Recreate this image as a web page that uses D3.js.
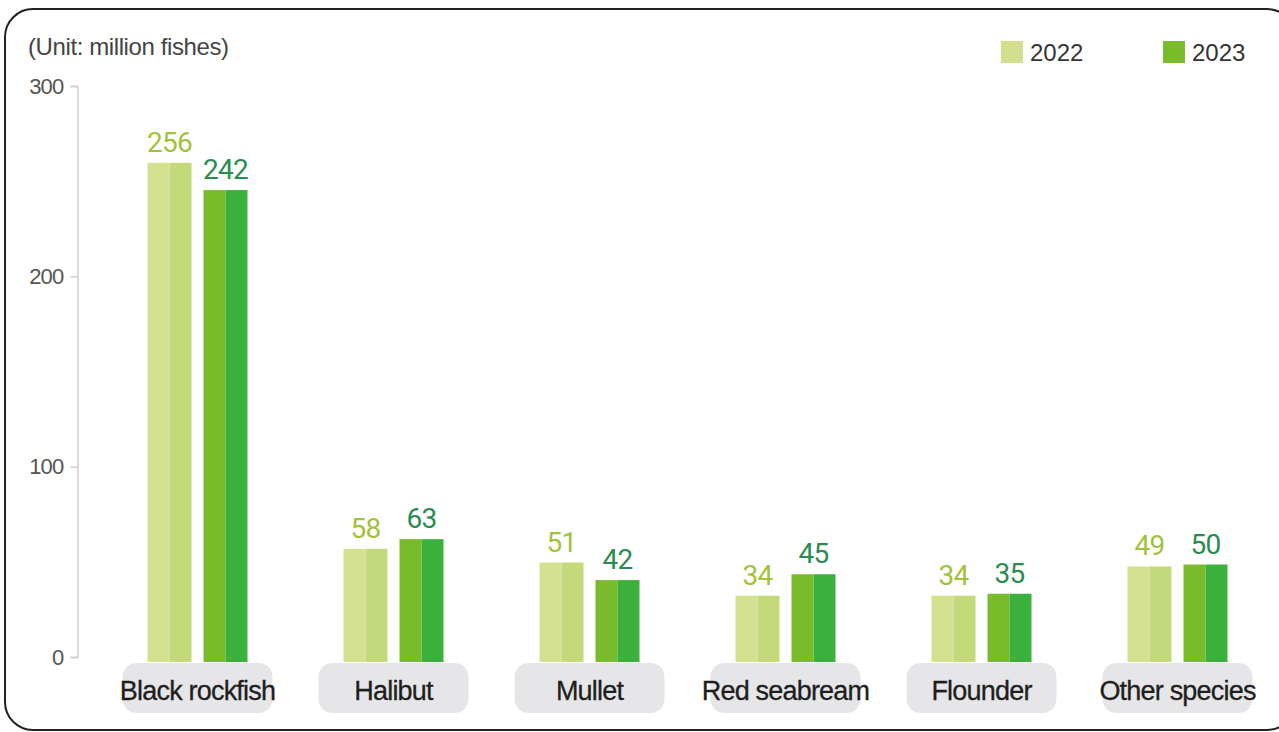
<!DOCTYPE html>
<html>
<head>
<meta charset="utf-8">
<script src="https://cdn.jsdelivr.net/npm/d3@7"></script>
<style>
  html, body { margin: 0; padding: 0; background: #fff; }
  svg { display: block; }
</style>
</head>
<body>
<svg id="chart" width="1279" height="732"></svg>
<script>
const categories = ["Black rockfish", "Halibut", "Mullet", "Red seabream", "Flounder", "Other species"];
const seriesNames = ["2022", "2023"];
const values2022 = [256, 58, 51, 34, 34, 49];
const values2023 = [242, 63, 42, 45, 35, 50];
const yTicks = [0, 100, 200, 300];
const unitLabel = "(Unit: million fishes)";

const svg = d3.select("#chart");

// outer rounded frame
svg.append("rect")
  .attr("x", 5).attr("y", 9).attr("width", 1290).attr("height", 721)
  .attr("rx", 28).attr("ry", 28)
  .attr("fill", "#fff").attr("stroke", "#222").attr("stroke-width", 2);

// scales
const x0 = d3.scaleBand().domain(categories).range([99.5, 1275.5]).paddingInner(0).paddingOuter(0);
const x1 = d3.scaleBand().domain(seriesNames).range([0, 100]).paddingInner(0.2143).paddingOuter(0);
const yAxisScale = d3.scaleLinear().domain([0, 300]).range([657, 86]);
const yBar = d3.scaleLinear().domain([0, 300]).range([662, 77]);

// y axis
const yAxis = d3.axisLeft(yAxisScale).tickValues(yTicks).tickSize(7).tickPadding(7);
const gy = svg.append("g").attr("transform", "translate(77.5,0)").call(yAxis);
gy.select(".domain").attr("stroke", "#cfcfcf").attr("stroke-width", 1.5);
gy.selectAll(".tick line").attr("stroke", "#cfcfcf").attr("stroke-width", 1.5);
gy.selectAll(".tick text")
  .attr("fill", "#555").attr("font-size", 22)
  .attr("font-family", "'Liberation Sans', Arial, sans-serif")
  .attr("letter-spacing", -0.8);

// unit label
svg.append("text").attr("x", 28).attr("y", 55).text(unitLabel)
  .attr("font-family", "'Liberation Sans', Arial, sans-serif")
  .attr("font-size", 24).attr("fill", "#444").attr("letter-spacing", -0.4);

// category label boxes
const catG = svg.append("g");
categories.forEach(c => {
  const cx = x0(c) + x0.bandwidth() / 2;
  catG.append("rect")
    .attr("x", cx - 75).attr("y", 663).attr("width", 150).attr("height", 50)
    .attr("rx", 14).attr("fill", "#e6e6e8");
  catG.append("text")
    .attr("x", cx).attr("y", 700).attr("text-anchor", "middle")
    .attr("font-family", "'Liberation Sans', Arial, sans-serif")
    .attr("font-size", 27).attr("fill", "#1e1e1e").attr("letter-spacing", -0.8)
    .attr("stroke", "#1e1e1e").attr("stroke-width", 0.3)
    .text(c);
});

// bars
const colors = {
  "2022": { left: "#d4e190", right: "#c3d97a", label: "#a0c33a" },
  "2023": { left: "#78bb2b", right: "#3cb03d", label: "#2b8c52" }
};
const data = categories.map((c, i) => ({ cat: c, vals: [
  { s: "2022", v: values2022[i] },
  { s: "2023", v: values2023[i] }
]}));

const groups = svg.append("g").selectAll("g").data(data).join("g")
  .attr("transform", d => `translate(${x0(d.cat) + (x0.bandwidth() - 100) / 2},0)`);

groups.each(function(d) {
  const g = d3.select(this);
  d.vals.forEach(b => {
    const bx = x1(b.s), bw = x1.bandwidth();
    const top = yBar(b.v), h = yBar(0) - top;
    g.append("rect").attr("x", bx).attr("y", top).attr("width", bw / 2).attr("height", h)
      .attr("fill", colors[b.s].left);
    g.append("rect").attr("x", bx + bw / 2).attr("y", top).attr("width", bw / 2).attr("height", h)
      .attr("fill", colors[b.s].right);
    g.append("text").attr("x", bx + bw / 2).attr("y", top - 11)
      .attr("text-anchor", "middle")
      .attr("font-family", "Roboto, 'DejaVu Sans Condensed', sans-serif")
      .attr("font-size", 28).attr("fill", colors[b.s].label)
      .attr("letter-spacing", -0.8)
      .text(b.v);
  });
});

// legend
const legendX = [1001, 1163];
seriesNames.forEach((s, i) => {
  svg.append("rect").attr("x", legendX[i]).attr("y", 41).attr("width", 22).attr("height", 22)
    .attr("fill", i === 0 ? "#d1e08e" : "#78bb2b");
  svg.append("text").attr("x", legendX[i] + 29).attr("y", 61)
    .attr("font-family", "'Liberation Sans', Arial, sans-serif")
    .attr("font-size", 24).attr("fill", "#333")
    .text(s);
});
</script>
</body>
</html>
